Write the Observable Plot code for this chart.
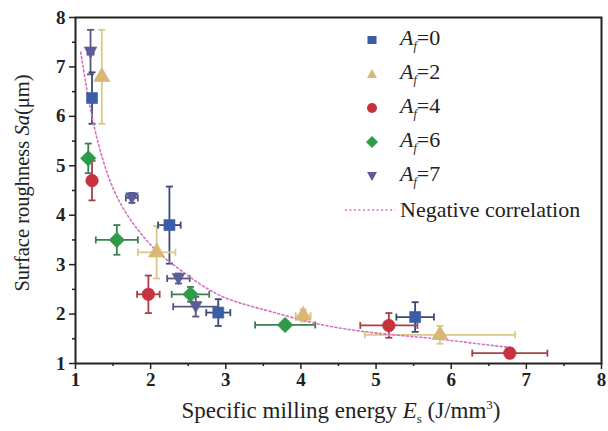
<!DOCTYPE html>
<html><head><meta charset="utf-8">
<script src="https://cdn.jsdelivr.net/npm/d3@7"></script>
<script src="https://cdn.jsdelivr.net/npm/@observablehq/plot@0.6"></script>
<style>
body{margin:0;background:#fff;}
#wrap{position:relative;width:608px;height:431px;font-family:"Liberation Serif",serif;color:#222;}
#legend{position:absolute;left:345px;top:23px;font-size:22px;}
#legend .row{display:flex;align-items:center;height:34px;}
#legend svg{width:50px;height:20px;margin-right:5px;}
#xlab{position:absolute;left:0;width:608px;top:397px;text-align:center;font-size:23px;padding-left:74px;box-sizing:border-box;white-space:nowrap;}
#ylab{position:absolute;left:22px;top:183px;font-size:20.5px;transform:translate(-50%,-50%) rotate(-90deg);white-space:nowrap;}
i{font-style:italic;}
</style></head><body><div id="wrap"></div>
<script>
// ---- data ----
const seriesKeys = ["0", "2", "4", "6", "7"];
const seriesColors = ["#3b5ca6", "#d9b876", "#c8323f", "#2f9a4a", "#5b5c9c"];
const barColors = ["#3a4a78", "#d8c98a", "#a8404a", "#3d7d52", "#55587e"];

const a0X = [1.22, 2.25, 2.90, 5.52];
const a0Y = [6.37, 3.80, 2.03, 1.94];
const a0XErr = [0.04, 0.15, 0.16, 0.25];
const a0YErr = [0.52, 0.78, 0.27, 0.30];

const a2X = [1.35, 2.08, 4.03, 5.85];
const a2Y = [6.80, 3.25, 1.97, 1.58];
const a2XErr = [0.04, 0.25, 0.10, 1.00];
const a2YErr = [0.95, 0.53, 0.12, 0.18];

const a4X = [1.22, 1.97, 5.17, 6.78];
const a4Y = [4.70, 2.40, 1.77, 1.21];
const a4XErr = [0.04, 0.15, 0.38, 0.50];
const a4YErr = [0.40, 0.38, 0.25, 0.10];

const a6X = [1.17, 1.55, 2.53, 3.79];
const a6Y = [5.15, 3.50, 2.40, 1.78];
const a6XErr = [0.04, 0.28, 0.25, 0.40];
const a6YErr = [0.30, 0.30, 0.15, 0.08];

const a7X = [1.20, 1.75, 2.37, 2.60];
const a7Y = [7.30, 4.35, 2.72, 2.15];
const a7XErr = [0.04, 0.08, 0.15, 0.30];
const a7YErr = [0.45, 0.10, 0.10, 0.20];

const fitX = [1.07, 1.15, 1.24, 1.40, 1.65, 2.00, 2.30, 2.77, 3.20, 3.65, 4.20, 4.77, 5.30, 5.80, 6.30, 6.80];
const fitY = [7.30, 6.55, 5.85, 4.95, 4.10, 3.40, 3.00, 2.50, 2.22, 2.03, 1.81, 1.66, 1.57, 1.50, 1.41, 1.32];

const xTicks = [1, 2, 3, 4, 5, 6, 7, 8];
const yTicks = [1, 2, 3, 4, 5, 6, 7, 8];
const xMinor = [1.5, 2.5, 3.5, 4.5, 5.5, 6.5, 7.5];
const yMinor = [1.5, 2.5, 3.5, 4.5, 5.5, 6.5, 7.5];

// ---- build rows ----
const groups = [
  [a0X, a0Y, a0XErr, a0YErr],
  [a2X, a2Y, a2XErr, a2YErr],
  [a4X, a4Y, a4XErr, a4YErr],
  [a6X, a6Y, a6XErr, a6YErr],
  [a7X, a7Y, a7XErr, a7YErr]
];
const rows = [];
groups.forEach((g, i) => g[0].forEach((x, j) => rows.push({s: seriesKeys[i], x, y: g[1][j], xe: g[2][j], ye: g[3][j]})));
const fit = fitX.map((x, i) => ({x, y: fitY[i]}));

// custom symbols
const hcap = {draw(ctx, size) { const w = 3.5; ctx.moveTo(-w, 0); ctx.lineTo(w, 0); }};
const vcap = {draw(ctx, size) { const w = 3.5; ctx.moveTo(0, -w); ctx.lineTo(0, w); }};
const triDown = {draw(ctx, size) {
  const s = Math.sqrt(size) * 1.1;
  ctx.moveTo(-s / 2, -s * 0.4); ctx.lineTo(s / 2, -s * 0.4); ctx.lineTo(0, s * 0.5); ctx.closePath();
}};
const symbolsBy = {"0": "square", "2": "triangle", "4": "circle", "6": "diamond2", "7": triDown};
const rBy = {"0": 6.2, "2": 6, "4": 6.3, "6": 7, "7": 6.5};
const barBy = Object.fromEntries(seriesKeys.map((k, i) => [k, barColors[i]]));
const colBy = Object.fromEntries(seriesKeys.map((k, i) => [k, seriesColors[i]]));

const FONT = "'Liberation Serif', serif";
const marks = [];
// error bars
marks.push(Plot.ruleX(rows, {x: "x", y1: d => d.y - d.ye, y2: d => d.y + d.ye, stroke: d => barBy[d.s], strokeWidth: 1.8}));
marks.push(Plot.ruleY(rows, {y: "y", x1: d => d.x - d.xe, x2: d => d.x + d.xe, stroke: d => barBy[d.s], strokeWidth: 1.8}));
marks.push(Plot.dot(rows, {x: "x", y: d => d.y - d.ye, symbol: hcap, r: 3, fill: "none", stroke: d => barBy[d.s], strokeWidth: 1.8}));
marks.push(Plot.dot(rows, {x: "x", y: d => d.y + d.ye, symbol: hcap, r: 3, fill: "none", stroke: d => barBy[d.s], strokeWidth: 1.8}));
marks.push(Plot.dot(rows, {x: d => d.x - d.xe, y: "y", symbol: vcap, r: 3, fill: "none", stroke: d => barBy[d.s], strokeWidth: 1.8}));
marks.push(Plot.dot(rows, {x: d => d.x + d.xe, y: "y", symbol: vcap, r: 3, fill: "none", stroke: d => barBy[d.s], strokeWidth: 1.8}));
// fit curve
marks.push(Plot.line(fit, {x: "x", y: "y", curve: "natural", stroke: "#d872c0", strokeWidth: 1.6, strokeDasharray: "2,2.5"}));
// markers
seriesKeys.forEach(k => {
  marks.push(Plot.dot(rows.filter(d => d.s === k), {x: "x", y: "y", symbol: symbolsBy[k], r: rBy[k], fill: colBy[k], stroke: colBy[k], strokeOpacity: 0.6, strokeWidth: 1}));
});
// axes
marks.push(Plot.axisX({ticks: xTicks, tickSize: 6, tickPadding: 3, tickFormat: d3.format("d"), label: null, fontSize: 19, fontFamily: FONT, fontWeight: "bold", strokeWidth: 1.5}));
marks.push(Plot.axisX({ticks: xMinor, tickSize: 3, tickFormat: () => "", label: null, strokeWidth: 1.5}));
marks.push(Plot.axisY({ticks: yTicks, tickSize: 6, tickPadding: 4, tickFormat: d3.format("d"), label: null, fontSize: 19, fontFamily: FONT, fontWeight: "bold", strokeWidth: 1.5}));
marks.push(Plot.axisY({ticks: yMinor, tickSize: 3, tickFormat: () => "", label: null, strokeWidth: 1.5}));
marks.push(Plot.frame({stroke: "#222", strokeWidth: 2}));

const chart = Plot.plot({
  width: 608, height: 431,
  marginLeft: 75, marginRight: 7, marginTop: 17, marginBottom: 68,
  style: {fontFamily: FONT, color: "#222", background: "#fff"},
  x: {domain: [1, 8]},
  y: {domain: [1, 8]},
  marks
});
const wrap = document.getElementById("wrap");
wrap.appendChild(chart);

// legend overlay
const legendDefs = [
  ["0", '<rect x="22.5" y="6" width="9" height="8" fill="#3b5ca6"/>'],
  ["2", '<path d="M27 5 L32 14 L22 14 Z" fill="#d9b876"/>'],
  ["4", '<circle cx="27" cy="10" r="5" fill="#c8323f"/>'],
  ["6", '<path d="M27 4 L33 10 L27 16 L21 10 Z" fill="#2f9a4a"/>'],
  ["7", '<path d="M22 6 L32 6 L27 15 Z" fill="#5b5c9c"/>']
];
const lg = document.createElement("div");
lg.id = "legend";
lg.innerHTML = legendDefs.map(([k, s]) => `<div class="row"><svg viewBox="0 0 50 20">${s}</svg><span><i>A</i><sub style="font-size:12px"><i>f</i></sub>=${k}</span></div>`).join("") +
  `<div class="row"><svg viewBox="0 0 50 20"><line x1="0" y1="10" x2="50" y2="10" stroke="#d872c0" stroke-width="1.6" stroke-dasharray="2,2.5"/></svg><span>Negative correlation</span></div>`;
wrap.appendChild(lg);

const xl = document.createElement("div");
xl.id = "xlab";
xl.innerHTML = 'Specific milling energy <i>E</i><sub style="font-size:13px">s</sub> (J/mm<sup style="font-size:13px">3</sup>)';
wrap.appendChild(xl);
const yl = document.createElement("div");
yl.id = "ylab";
yl.innerHTML = 'Surface roughness <i>Sa</i>(μm)';
wrap.appendChild(yl);
</script></body></html>
